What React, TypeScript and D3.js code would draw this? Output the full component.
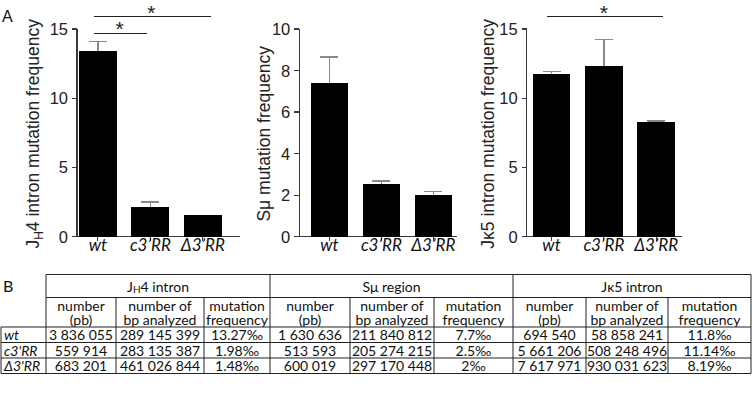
import React from "react";
import * as d3 from "d3";

const categories = ["wt", "c3\u2019RR", "\u03943\u2019RR"];
const jh4Means = [13.4, 2.15, 1.55];
const jh4Errors = [0.7, 0.35, 0];
const smuMeans = [7.4, 2.55, 2.03];
const smuErrors = [1.25, 0.13, 0.14];
const jk5Means = [11.75, 12.3, 8.28];
const jk5Errors = [0.17, 1.95, 0.09];
const jh4Ticks = [0, 5, 10, 15];
const smuTicks = [0, 2, 4, 6, 8, 10];
const jk5Ticks = [0, 5, 10, 15];

const tableGroups = ["JH4 intron", "S\u03bc region", "J\u03ba5 intron"];
const subHeadTop = ["number", "number of", "mutation"];
const subHeadBottom = ["(pb)", "bp analyzed", "frequency"];
const rowLabels = ["wt", "c3'RR", "\u03943'RR"];
const jh4Number = ["3 836 055", "559 914", "683 201"];
const jh4Bp = ["289 145 399", "283 135 387", "461 026 844"];
const jh4Freq = ["13.27\u2030", "1.98\u2030", "1.48\u2030"];
const smuNumber = ["1 630 636", "513 593", "600 019"];
const smuBp = ["211 840 812", "205 274 215", "297 170 448"];
const smuFreq = ["7.7\u2030", "2.5\u2030", "2\u2030"];
const jk5Number = ["694 540", "5 661 206", "7 617 971"];
const jk5Bp = ["58 858 241", "508 248 496", "930 031 623"];
const jk5Freq = ["11.8\u2030", "11.14\u2030", "8.19\u2030"];

const Y_TOP = 29;
const Y_BOT = 236.7;
const AXIS_COLOR = "#3a3a3a";
const ERR_COLOR = "#8a8a8a";
const CHART_FONT = "'Liberation Sans', Arial, sans-serif";
const TABLE_FONT = "Lato, 'Open Sans', sans-serif";

type Sig = { from: number; to: number; y: number; dx1: number; dx2: number };
type Panel = {
  means: number[];
  errors: number[];
  ticks: number[];
  yMax: number;
  axisX: number;
  axisEnd: number;
  band: [number, number];
  labelX: number;
  label: React.ReactNode;
  sig: Sig[];
};

const panels: Panel[] = [
  {
    means: jh4Means,
    errors: jh4Errors,
    ticks: jh4Ticks,
    yMax: 15,
    axisX: 77,
    axisEnd: 240,
    band: [79, 221.7],
    labelX: 39,
    label: (
      <>
        <tspan>J</tspan>
        <tspan fontSize={12} dy={4}>H</tspan>
        <tspan dy={-4}>{"4 intron mutation frequency"}</tspan>
      </>
    ),
    sig: [
      { from: 0, to: 1, y: 33.3, dx1: -4, dx2: -3 },
      { from: 0, to: 2, y: 16.7, dx1: -4, dx2: 8 },
    ],
  },
  {
    means: smuMeans,
    errors: smuErrors,
    ticks: smuTicks,
    yMax: 10,
    axisX: 299.3,
    axisEnd: 456.7,
    band: [310.7, 452],
    labelX: 270,
    label: <tspan>{"S\u03bc mutation frequency"}</tspan>,
    sig: [],
  },
  {
    means: jk5Means,
    errors: jk5Errors,
    ticks: jk5Ticks,
    yMax: 15,
    axisX: 526.7,
    axisEnd: 681.7,
    band: [532.7, 675],
    labelX: 494,
    label: <tspan>{"J\u03ba5 intron mutation frequency"}</tspan>,
    sig: [{ from: 0, to: 2, y: 16.7, dx1: -5, dx2: 7 }],
  },
];

function BarPanel({ p }: { p: Panel }) {
  const x = d3.scaleBand<string>().domain(categories).range(p.band).paddingInner(0.28).paddingOuter(0);
  const y = d3.scaleLinear().domain([0, p.yMax]).range([Y_BOT, Y_TOP]);
  const bw = x.bandwidth();
  const cx = (c: string) => (x(c) as number) + bw / 2;
  return (
    <g>
      <line x1={p.axisX} x2={p.axisX} y1={y(p.yMax)} y2={y(0)} stroke={AXIS_COLOR} strokeWidth={1.2} />
      {p.ticks.map((t) => (
        <g key={t}>
          <line x1={p.axisX - 5} x2={p.axisX} y1={y(t)} y2={y(t)} stroke={AXIS_COLOR} strokeWidth={1.2} />
          <text
            x={p.axisX - 9}
            y={y(t)}
            textAnchor="end"
            dominantBaseline="central"
            fontFamily={CHART_FONT}
            fontSize={16.5}
            fill="#222"
          >
            {t}
          </text>
        </g>
      ))}
      <line x1={p.axisX} x2={p.axisEnd} y1={y(0)} y2={y(0)} stroke={AXIS_COLOR} strokeWidth={1.2} />
      {categories.map((c) => (
        <line key={c} x1={cx(c)} x2={cx(c)} y1={y(0)} y2={y(0) + 4} stroke={AXIS_COLOR} strokeWidth={1.2} />
      ))}
      {categories.map((c, i) =>
        p.errors[i] > 0 ? (
          <g key={"e" + c} stroke={ERR_COLOR} strokeWidth={1.5}>
            <line x1={cx(c)} x2={cx(c)} y1={y(p.means[i])} y2={y(p.means[i] + p.errors[i])} />
            <line x1={cx(c) - 9} x2={cx(c) + 9} y1={y(p.means[i] + p.errors[i])} y2={y(p.means[i] + p.errors[i])} />
          </g>
        ) : null
      )}
      {categories.map((c, i) => (
        <rect key={"b" + c} x={x(c)} y={y(p.means[i])} width={bw} height={y(0) - y(p.means[i])} fill="#000" />
      ))}
      {categories.map((c) => (
        <text
          key={"l" + c}
          x={cx(c)}
          y={251}
          textAnchor="middle"
          fontFamily={TABLE_FONT}
          fontStyle="italic"
          fontSize={17}
          fill="#111"
        >
          {c}
        </text>
      ))}
      <text
        transform={`translate(${p.labelX},${(Y_TOP + Y_BOT) / 2 + 1}) rotate(-90)`}
        textAnchor="middle"
        fontFamily={CHART_FONT}
        fontSize={17.5}
        fill="#222"
      >
        {p.label}
      </text>
      {p.sig.map((s, k) => {
        const x1 = cx(categories[s.from]) + s.dx1;
        const x2 = cx(categories[s.to]) + s.dx2;
        return (
          <g key={"s" + k}>
            <line x1={x1} x2={x2} y1={s.y} y2={s.y} stroke="#222" strokeWidth={1.4} />
            <text
              x={(x1 + x2) / 2 - 1}
              y={s.y + 3}
              textAnchor="middle"
              fontFamily={CHART_FONT}
              fontSize={21}
              fill="#222"
            >
              *
            </text>
          </g>
        );
      })}
    </g>
  );
}

const colEdges = [1, 46, 116, 204, 270, 350, 434, 513, 586, 668, 751];
const rowEdges = [274.5, 297.5, 327, 342.5, 358, 373.5];

function Table() {
  const groupCols = [
    [jh4Number, jh4Bp, jh4Freq],
    [smuNumber, smuBp, smuFreq],
    [jk5Number, jk5Bp, jk5Freq],
  ];
  const lines: React.ReactNode[] = [];
  const L = colEdges[0];
  const H = colEdges[1];
  const R = colEdges[colEdges.length - 1];
  lines.push(<line key="h0" x1={H} x2={R} y1={rowEdges[0]} y2={rowEdges[0]} />);
  lines.push(<line key="h1" x1={H} x2={R} y1={rowEdges[1]} y2={rowEdges[1]} />);
  for (let r = 2; r < rowEdges.length; r++) {
    lines.push(<line key={"h" + r} x1={L} x2={R} y1={rowEdges[r]} y2={rowEdges[r]} />);
  }
  lines.push(<line key="vL" x1={L} x2={L} y1={rowEdges[2]} y2={rowEdges[5]} />);
  colEdges.slice(1).forEach((ex, i) => {
    const idx = i + 1;
    const isGroupEdge = (idx - 1) % 3 === 0;
    const y1 = isGroupEdge ? rowEdges[0] : rowEdges[1];
    lines.push(<line key={"v" + idx} x1={ex} x2={ex} y1={y1} y2={rowEdges[5]} />);
  });

  const texts: React.ReactNode[] = [];
  tableGroups.forEach((g, gi) => {
    const x0 = colEdges[1 + gi * 3];
    const x1 = colEdges[4 + gi * 3];
    const ty = (rowEdges[0] + rowEdges[1]) / 2;
    texts.push(
      <text key={"g" + gi} x={(x0 + x1) / 2} y={ty} textAnchor="middle" dominantBaseline="central">
        {gi === 0 ? (
          <>
            <tspan>J</tspan>
            <tspan fontSize={10} dy={3}>H</tspan>
            <tspan dy={-3}>{"4 intron"}</tspan>
          </>
        ) : (
          g
        )}
      </text>
    );
    for (let k = 0; k < 3; k++) {
      const a = colEdges[1 + gi * 3 + k];
      const b = colEdges[2 + gi * 3 + k];
      const mid = (a + b) / 2;
      texts.push(
        <text key={`st${gi}${k}`} x={mid} y={rowEdges[1] + 7.5} textAnchor="middle" dominantBaseline="central">
          {subHeadTop[k]}
        </text>
      );
      texts.push(
        <text key={`sb${gi}${k}`} x={mid} y={rowEdges[1] + 22} textAnchor="middle" dominantBaseline="central">
          {subHeadBottom[k]}
        </text>
      );
      groupCols[gi][k].forEach((v, r) => {
        texts.push(
          <text
            key={`d${gi}${k}${r}`}
            x={mid}
            y={(rowEdges[2 + r] + rowEdges[3 + r]) / 2}
            textAnchor="middle"
            dominantBaseline="central"
          >
            {v}
          </text>
        );
      });
    }
  });
  rowLabels.forEach((lab, r) => {
    texts.push(
      <text
        key={"rl" + r}
        x={L + 3}
        y={(rowEdges[2 + r] + rowEdges[3 + r]) / 2}
        dominantBaseline="central"
        fontStyle="italic"
      >
        {lab}
      </text>
    );
  });
  return (
    <g>
      <g stroke="#222" strokeWidth={1}>{lines}</g>
      <g fontFamily={TABLE_FONT} fontSize={14} fill="#111">{texts}</g>
    </g>
  );
}

export default function App() {
  return (
    <svg
      width={753}
      height={406}
      style={{ position: "absolute", left: 0, top: 0, background: "#fff" }}
      shapeRendering="crispEdges"
    >
      <rect width={753} height={406} fill="#fff" />
      <text x={2} y={22} fontFamily={CHART_FONT} fontSize={16} fill="#111">A</text>
      <text x={3} y={292} fontFamily={TABLE_FONT} fontSize={16} fill="#111">B</text>
      {panels.map((p, i) => (
        <BarPanel key={i} p={p} />
      ))}
      <g shapeRendering="auto">
        <Table />
      </g>
    </svg>
  );
}
